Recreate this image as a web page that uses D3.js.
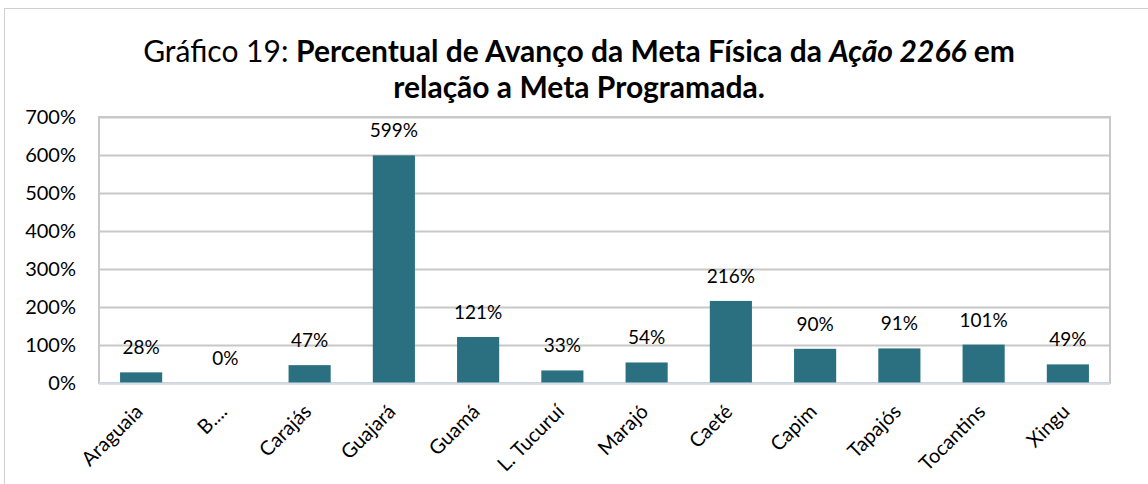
<!DOCTYPE html>
<html>
<head>
<meta charset="utf-8">
<script src="https://cdn.jsdelivr.net/npm/d3@7"></script>
<style>
  body { margin: 0; background: #fff; }
  svg { display: block; }
</style>
</head>
<body>
<script>
let width = 1148;
let height = 484;

let categories = ["Araguaia", "B....", "Carajás", "Guajará", "Guamá", "L. Tucuruí",
                  "Marajó", "Caeté", "Capim", "Tapajós", "Tocantins", "Xingu"];
let values = [28, 0, 47, 599, 121, 33, 54, 216, 90, 91, 101, 49];
let yTicks = [0, 100, 200, 300, 400, 500, 600, 700];

let margin = { left: 99, right: 38, top: 117, bottom: 101 };
let font = "Lato";

let svg = d3.select("body")
    .append("svg")
    .attr("width", width)
    .attr("height", height);

// chart frame
svg.append("rect")
    .attr("x", 4.5)
    .attr("y", 8.5)
    .attr("width", width + 10)
    .attr("height", height)
    .attr("fill", "none")
    .attr("stroke", "#d0d0d0");

let xScale = d3.scaleBand()
    .domain(categories)
    .range([margin.left, width - margin.right])
    .paddingInner(0.5)
    .paddingOuter(0.25);

let yScale = d3.scaleLinear()
    .domain([0, 700])
    .range([height - margin.bottom, margin.top]);

// title
let title = svg.append("text")
    .attr("text-anchor", "middle")
    .attr("font-family", font)
    .attr("font-size", "30px")
    .attr("fill", "#000");

let line1 = title.append("tspan").attr("x", 579).attr("y", 62);
line1.append("tspan").text("Gráfico 19: ");
line1.append("tspan").attr("font-weight", "bold").text("Percentual de Avanço da Meta Física da ");
line1.append("tspan").attr("font-weight", "bold").attr("font-style", "italic").text("Ação 2266");
line1.append("tspan").attr("font-weight", "bold").text(" em");
title.append("tspan").attr("x", 579).attr("y", 98)
    .attr("font-weight", "bold")
    .text("relação a Meta Programada.");

// gridlines
svg.append("g")
    .selectAll("line")
    .data(yTicks)
    .enter()
    .append("line")
    .attr("x1", margin.left)
    .attr("x2", width - margin.right)
    .attr("y1", d => Math.round(yScale(d)) + 0.5)
    .attr("y2", d => Math.round(yScale(d)) + 0.5)
    .attr("stroke", "#c8c8c8")
    .attr("stroke-width", 2);

// plot border
svg.append("rect")
    .attr("x", margin.left)
    .attr("y", yScale(700))
    .attr("width", width - margin.right - margin.left)
    .attr("height", yScale(0) - yScale(700))
    .attr("fill", "none")
    .attr("stroke", "#c8c8c8")
    .attr("stroke-width", 2);

// y axis
let yAxis = d3.axisLeft(yScale)
    .tickValues(yTicks)
    .tickSize(0)
    .tickPadding(23)
    .tickFormat(d => d + "%");

svg.append("g")
    .attr("transform", "translate(" + margin.left + ",0)")
    .call(yAxis)
    .call(g => g.select(".domain").remove())
    .selectAll("text")
    .attr("font-family", font)
    .attr("font-size", "20px")
    .attr("fill", "#000");

// bars
svg.selectAll("rect.bar")
    .data(values)
    .enter()
    .append("rect")
    .attr("class", "bar")
    .attr("x", (d, i) => xScale(categories[i]))
    .attr("y", d => yScale(d))
    .attr("width", xScale.bandwidth())
    .attr("height", d => yScale(0) - yScale(d))
    .attr("fill", "#2b7080");

// bottom axis line
svg.append("line")
    .attr("x1", margin.left)
    .attr("x2", width - margin.right)
    .attr("y1", yScale(0) + 0.5)
    .attr("y2", yScale(0) + 0.5)
    .attr("stroke", "#d5dde8")
    .attr("stroke-width", 2);

// value labels
svg.selectAll("text.label")
    .data(values)
    .enter()
    .append("text")
    .attr("class", "label")
    .text(d => d + "%")
    .attr("x", (d, i) => xScale(categories[i]) + xScale.bandwidth() / 2)
    .attr("y", d => yScale(d) - 18)
    .attr("text-anchor", "middle")
    .attr("font-family", font)
    .attr("font-size", "19px")
    .attr("fill", "#000");

// x labels
let xAxis = d3.axisBottom(xScale).tickSize(0).tickPadding(0);

svg.append("g")
    .attr("transform", "translate(0," + yScale(0) + ")")
    .call(xAxis)
    .call(g => g.select(".domain").remove())
    .selectAll("text")
    .attr("font-family", font)
    .attr("font-size", "20px")
    .attr("fill", "#000")
    .attr("text-anchor", "end")
    .attr("dy", "0.35em")
    .attr("transform", "translate(-2,25) rotate(-45)");
</script>
</body>
</html>
